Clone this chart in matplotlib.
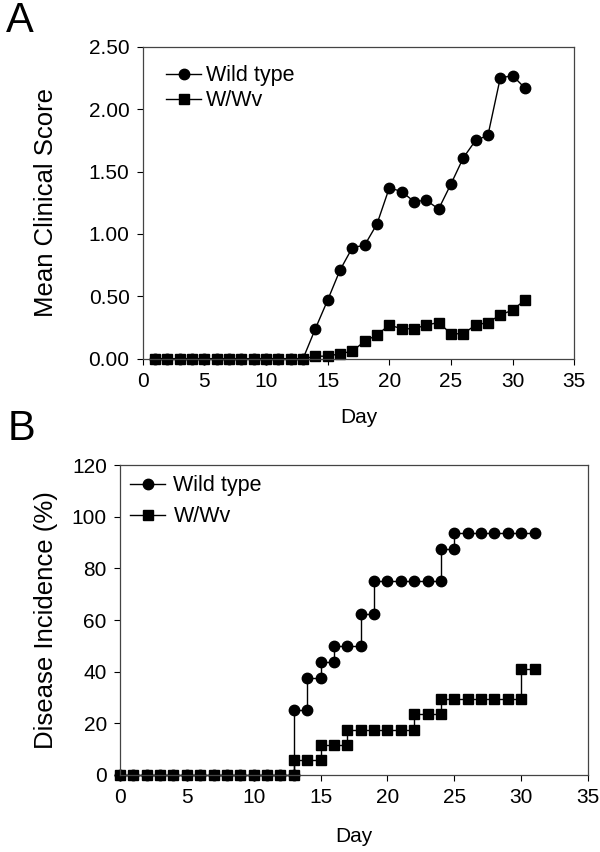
import matplotlib
matplotlib.use("Agg")
import matplotlib.pyplot as plt

plt.rcParams['font.family'] = ['Liberation Sans', 'DejaVu Sans']

# Panel A: mean clinical score per day
days_a = list(range(1, 32))
wt_score = [0, 0, 0, 0, 0, 0, 0, 0, 0, 0, 0, 0, 0,
            0.24, 0.47, 0.71, 0.89, 0.91, 1.08, 1.37, 1.34, 1.26, 1.27, 1.20,
            1.40, 1.61, 1.75, 1.79, 2.25, 2.27, 2.17]
wv_score = [0, 0, 0, 0, 0, 0, 0, 0, 0, 0, 0, 0, 0,
            0.02, 0.02, 0.04, 0.06, 0.14, 0.19, 0.27, 0.24, 0.24, 0.27, 0.29,
            0.20, 0.20, 0.27, 0.29, 0.35, 0.39, 0.47]

# Panel B: cumulative incidence (%), steps drawn as repeated days
wt_days_b = [0, 1, 2, 3, 4, 5, 6, 7, 8, 9, 10, 11, 12, 13, 13, 14, 14, 15, 15,
             16, 16, 17, 18, 18, 19, 19, 20, 21, 22, 23, 24, 24, 25, 25,
             26, 27, 28, 29, 30, 31]
wt_inc = [0] * 14 + [25, 25, 37.5, 37.5, 43.75, 43.75, 50, 50, 50, 62.5,
                     62.5, 75, 75, 75, 75, 75, 75, 87.5, 87.5, 93.75,
                     93.75, 93.75, 93.75, 93.75, 93.75, 93.75]
wv_days_b = [0, 1, 2, 3, 4, 5, 6, 7, 8, 9, 10, 11, 12, 13, 13, 14, 15, 15, 16,
             17, 17, 18, 19, 20, 21, 22, 22, 23, 24, 24, 25, 26, 27, 28, 29,
             30, 30, 31]
wv_inc = [0] * 14 + [5.9, 5.9, 5.9, 11.8, 11.8, 11.8, 17.6, 17.6, 17.6,
                     17.6, 17.6, 17.6, 23.5, 23.5, 23.5, 29.4, 29.4, 29.4,
                     29.4, 29.4, 29.4, 29.4, 41.2, 41.2]

fig = plt.figure(figsize=(6, 8.52), dpi=100)
ax1 = fig.add_axes([0.238, 0.579, 0.719, 0.366])
ax2 = fig.add_axes([0.200, 0.0904, 0.780, 0.3638])

line_kw = dict(color='black', lw=1.0)

ax1.plot(days_a, wt_score, marker='o', ms=7.5, label='Wild type', **line_kw)
ax1.plot(days_a, wv_score, marker='s', ms=7, label='W/Wv', **line_kw)
ax1.set_xlim(0, 35)
ax1.set_ylim(0, 2.5)
ax1.set_xticks(range(0, 36, 5))
ax1.set_yticks([0, 0.5, 1.0, 1.5, 2.0, 2.5])
ax1.set_yticklabels(['0.00', '0.50', '1.00', '1.50', '2.00', '2.50'])
ax1.set_xlabel('Day', fontsize=15, labelpad=12)
ax1.set_ylabel('Mean Clinical Score', fontsize=18.5, labelpad=22)

ax2.plot(wt_days_b, wt_inc, marker='o', ms=7.5, label='Wild type', **line_kw)
ax2.plot(wv_days_b, wv_inc, marker='s', ms=7, label='W/Wv', **line_kw)
ax2.set_xlim(0, 35)
ax2.set_ylim(0, 120)
ax2.set_xticks(range(0, 36, 5))
ax2.set_yticks(range(0, 121, 20))
ax2.set_xlabel('Day', fontsize=15, labelpad=14)
ax2.set_ylabel('Disease Incidence (%)', fontsize=18.5, labelpad=10)

for ax in (ax1, ax2):
    ax.tick_params(direction='out', length=4.5, width=0.8, labelsize=15,
                   colors='black', pad=5)
    for sp in ax.spines.values():
        sp.set_color('#444444')
        sp.set_linewidth(0.9)
    for ln in ax.lines:
        ln.set_clip_on(False)

ax1.legend(loc='upper left', frameon=False, fontsize=15.5, handlelength=1.6,
           handletextpad=0.25, labelspacing=0.2, borderaxespad=0.3,
           bbox_to_anchor=(0.02, 0.99))
ax2.legend(loc='upper left', frameon=False, fontsize=15.5, handlelength=1.6,
           handletextpad=0.4, labelspacing=0.45, borderaxespad=0.3,
           bbox_to_anchor=(-0.01, 1.015))

fig.text(0.01, 0.975, 'A', fontsize=30, va='center', ha='left')
fig.text(0.012, 0.497, 'B', fontsize=30, va='center', ha='left')

fig.savefig('out.png', dpi=100)
